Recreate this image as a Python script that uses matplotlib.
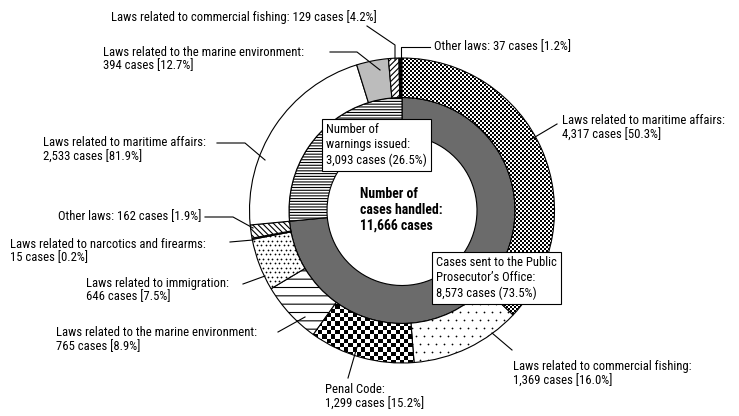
import matplotlib.pyplot as plt
from matplotlib import font_manager
import numpy as np


def have_font(name):
    try:
        font_manager.findfont(name, fallback_to_default=False)
        return True
    except ValueError:
        return False


# narrow face if there is one, otherwise a smaller Arial-like face
if have_font('Roboto Condensed'):
    plt.rcParams['font.family'] = ['Roboto Condensed', 'DejaVu Sans']
    fs = 9.1
elif have_font('Liberation Sans Narrow'):
    plt.rcParams['font.family'] = ['Liberation Sans Narrow', 'DejaVu Sans']
    fs = 9.4
else:
    plt.rcParams['font.family'] = ['Liberation Sans', 'DejaVu Sans']
    fs = 7.8
plt.rcParams['hatch.linewidth'] = 0.8

W, H = 739, 416

# inner ring: cases sent to the prosecutor / warnings issued
inner_names = ['Cases sent to the Public\nProsecutor\u2019s Office:',
               'Number of\nwarnings issued:']
inner_cases = [8573, 3093]
inner_pct = [73.5, 26.5]
total_cases = 11666

# outer ring, cases sent (clockwise from the top)
sent_names = ['Laws related to maritime affairs:',
              'Laws related to commercial fishing:',
              'Penal Code:',
              'Laws related to the marine environment:',
              'Laws related to immigration:',
              'Laws related to narcotics and firearms:',
              'Other laws:']
sent_cases = [4317, 1369, 1299, 765, 646, 15, 162]
sent_pct = [50.3, 16.0, 15.2, 8.9, 7.5, 0.2, 1.9]

# outer ring, warnings (clockwise, continuing up to the top)
warn_names = ['Laws related to maritime affairs:',
              'Laws related to the marine environment:',
              'Laws related to commercial fishing:',
              'Other laws:']
warn_cases = [2533, 394, 129, 37]
warn_pct = [81.9, 12.7, 4.2, 1.2]


def Y(y):
    # pixel rows counted from the top -> data y
    return H - y


def checker(ax, wedge, cell):
    """Fill a wedge with a black/white checkerboard."""
    nx, ny = int(W / cell) + 2, int(H / cell) + 2
    board = np.add.outer(np.arange(ny), np.arange(nx)) % 2
    im = ax.imshow(board, cmap='gray_r', origin='lower',
                   extent=(0, nx * cell, 0, ny * cell),
                   interpolation='nearest', zorder=1.5)
    im.set_clip_path(wedge)
    wedge.set_facecolor('none')
    wedge.set_zorder(2)


def dots(ax, wedge, step, size):
    """Staggered grid of small dots inside a wedge."""
    gx, gy = np.meshgrid(np.arange(0, W, step), np.arange(0, H, step))
    gx = gx + (np.arange(gy.shape[0])[:, None] % 2) * step / 2
    sc = ax.scatter(gx.ravel(), gy.ravel(), s=size, c='black',
                    linewidths=0, zorder=1.6)
    sc.set_clip_path(wedge)


fig = plt.figure(figsize=(W / 100, H / 100), dpi=100)
ax = fig.add_axes([0, 0, 1, 1])

cx, cy = 402, Y(210.5)
r_out, r_mid, r_in = 152.5, 113, 75
edge = dict(edgecolor='black', linewidth=0.8)

inner, _ = ax.pie(inner_cases, radius=r_mid, center=(cx, cy), startangle=90,
                  counterclock=False, wedgeprops=dict(width=r_mid - r_in, **edge))
inner[0].set_facecolor('#6b6b6b')
inner[1].set_facecolor('white')
inner[1].set_hatch('------')

outer, _ = ax.pie(sent_cases + warn_cases, radius=r_out, center=(cx, cy),
                  startangle=90, counterclock=False,
                  wedgeprops=dict(width=r_out - r_mid, **edge))
fills = ['white'] * len(outer)
hatches = [None, None, None, '--', None, None, '\\\\\\\\\\\\',
           None, None, '//////', None]
fills[8] = '#bcbcbc'
fills[10] = 'black'
for w, fc, h in zip(outer, fills, hatches):
    w.set_facecolor(fc)
    if h:
        w.set_hatch(h)
checker(ax, outer[0], 2)
checker(ax, outer[2], 4.3)
dots(ax, outer[1], 8, 1.6)
dots(ax, outer[4], 4.5, 1.6)

lw = 0.8


def label(x, y, text, ha='left', path=None):
    ax.text(x, Y(y), text, ha=ha, va='center', fontsize=fs,
            linespacing=1.1, zorder=5)
    if path:
        xs, ys = zip(*path)
        ax.plot(xs, [Y(v) for v in ys], color='black', lw=lw, zorder=4)


def two(name, n, p):
    return '%s\n%s cases [%.1f%%]' % (name, format(n, ','), p)


def one(name, n, p):
    return '%s %s cases [%.1f%%]' % (name, format(n, ','), p)


# warnings side
label(111, 17, one(warn_names[2], warn_cases[2], warn_pct[2]),
      path=[(367, 26), (395, 45), (395, 60)])
label(103, 59, two(warn_names[1], warn_cases[1], warn_pct[1]),
      path=[(330, 52), (357, 52), (380, 70)])
label(434, 47, one(warn_names[3], warn_cases[3], warn_pct[3]),
      path=[(401, 60), (401, 47), (430, 47)])
label(43, 150, two(warn_names[0], warn_cases[0], warn_pct[0]),
      path=[(217, 143), (245, 143), (265, 160)])

# cases sent side
label(562, 128, two(sent_names[0], sent_cases[0], sent_pct[0]),
      path=[(557, 124), (530, 140)])
label(513, 374, two(sent_names[1], sent_cases[1], sent_pct[1]),
      path=[(512, 350), (492, 333)])
label(325, 397, two(sent_names[2], sent_cases[2], sent_pct[2]),
      path=[(348, 378), (357, 347)])
label(56, 340, two(sent_names[3], sent_cases[3], sent_pct[3]),
      path=[(278, 332), (305, 317)])
label(86, 290, two(sent_names[4], sent_cases[4], sent_pct[4]),
      path=[(243, 284), (265, 276)])
label(10, 251, two(sent_names[5], sent_cases[5], sent_pct[5]),
      path=[(230, 242), (253, 240)])
label(201, 217, one(sent_names[6], sent_cases[6], sent_pct[6]), ha='right',
      path=[(205, 217), (233, 217), (253, 228)])

# boxes for the inner ring
box = dict(boxstyle='square,pad=0.35', fc='white', ec='black', lw=lw)
ax.text(326, Y(145), '%s\n%s cases (%.1f%%)' % (inner_names[1], format(inner_cases[1], ','), inner_pct[1]),
        ha='left', va='center', fontsize=fs, linespacing=1.2, bbox=box, zorder=6)
ax.text(436, Y(278), '%s\n%s cases (%.1f%%)' % (inner_names[0], format(inner_cases[0], ','), inner_pct[0]),
        ha='left', va='center', fontsize=fs, linespacing=1.2, bbox=box, zorder=6)

# centre
ax.text(360, Y(210), 'Number of\ncases handled:\n%s cases' % format(total_cases, ','),
        ha='left', va='center', fontsize=fs + 0.8, fontweight='bold',
        linespacing=1.15, zorder=6)

ax.set_xlim(0, W)
ax.set_ylim(0, H)
ax.set_aspect('equal')
ax.axis('off')

fig.savefig('out.png', dpi=100)
